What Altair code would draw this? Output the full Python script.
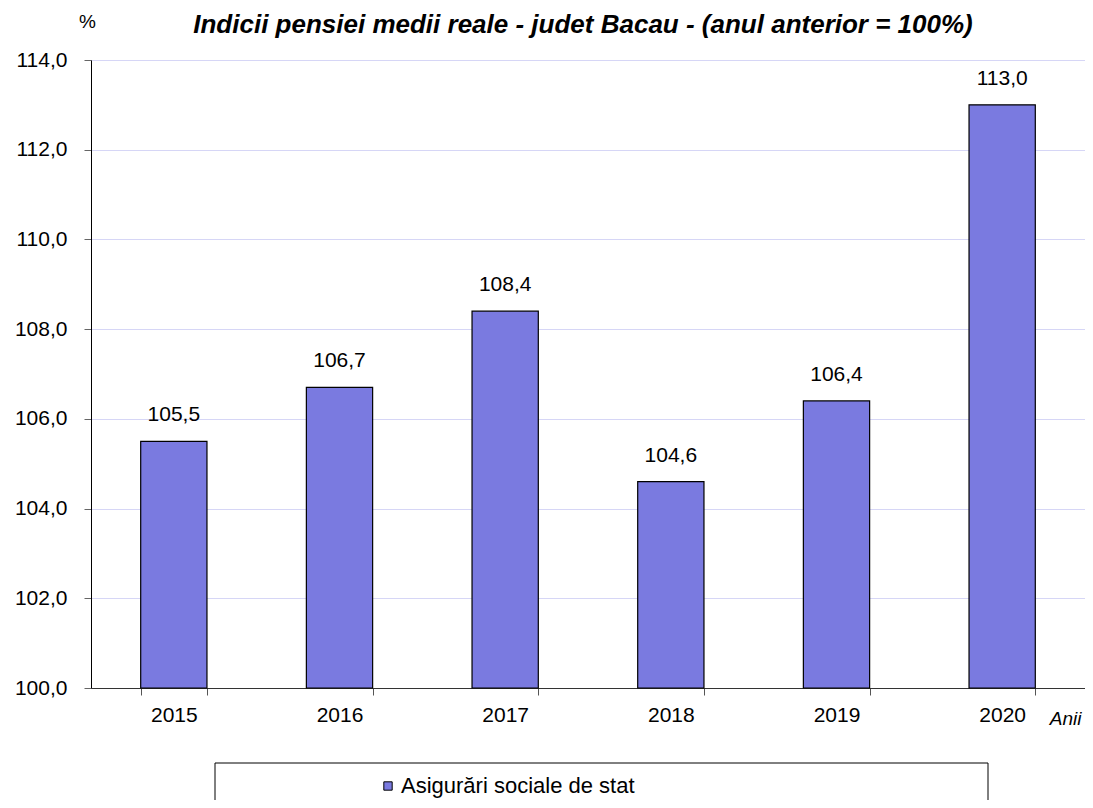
import altair as alt
import pandas as pd

years = ["2015", "2016", "2017", "2018", "2019", "2020"]
values = [105.5, 106.7, 108.4, 104.6, 106.4, 113.0]
series_name = "Asigurări sociale de stat"
y_ticks = [100, 102, 104, 106, 108, 110, 112, 114]
title_text = "Indicii pensiei  medii reale - judet Bacau - (anul anterior = 100%)"

FONT = "Liberation Sans"
BAR = "#7a7ae0"
W = 994

df = pd.DataFrame({
    "year": years,
    "value": values,
    "base": [100.0] * len(years),
    "label": [f"{v:.1f}".replace(".", ",") for v in values],
    "series": [series_name] * len(years),
})

x_enc = alt.X(
    "year:N",
    sort=years,
    scale=alt.Scale(paddingInner=0.6, paddingOuter=0.3),
    axis=alt.Axis(
        title="Anii", titleFont=FONT, titleFontSize=19, titleFontStyle="italic",
        titleFontWeight="normal", titleColor="#000", titleX=W - 4, titleY=36,
        titleAlign="right", titleBaseline="alphabetic", titleAngle=0,
        labelFont=FONT, labelFontSize=21, labelColor="#000", labelPadding=9,
        labelAngle=0, tickBand="extent", tickSize=7, tickColor="#555",
        domainColor="#333", grid=False,
    ),
)
y_scale = alt.Scale(domain=[100, 114], nice=False, zero=False)

bars = alt.Chart(df).mark_bar(stroke="#000", strokeWidth=1.2).encode(
    x=x_enc,
    y=alt.Y(
        "value:Q", scale=y_scale,
        axis=alt.Axis(
            values=y_ticks, labelExpr="replace(format(datum.value, '.1f'), '.', ',')",
            labelFont=FONT, labelFontSize=21, labelColor="#000", labelPadding=17,
            tickSize=7, tickColor="#666", domainColor="#000",
            gridColor="#d6d6f6", gridWidth=1,
            title="%", titleFont=FONT, titleFontSize=19, titleFontWeight="normal",
            titleAngle=0, titleX=-4, titleY=-33, titleAlign="center",
            titleBaseline="alphabetic", titleColor="#000",
        ),
    ),
    y2="base:Q",
    color=alt.Color(
        "series:N", scale=alt.Scale(range=[BAR]),
        legend=alt.Legend(
            title=None, orient="none", legendX=286, legendY=715,
            symbolType="square", symbolSize=70, symbolStrokeColor="#000",
            symbolStrokeWidth=1, symbolFillColor=BAR, labelFont=FONT,
            labelFontSize=22, labelColor="#000", padding=0, labelOffset=2,
            labelLimit=0,
        ),
    ),
)

text = alt.Chart(df).mark_text(
    font=FONT, fontSize=21, color="#000", baseline="alphabetic", dy=-20
).encode(x=alt.X("year:N", sort=years), y=alt.Y("value:Q", scale=y_scale), text="label:N")

box_df = pd.DataFrame({"k": [1]})
box = alt.Chart(box_df).mark_rect(fill="white", stroke="#000", strokeWidth=1).encode(
    x=alt.value(124), x2=alt.value(897), y=alt.value(703), y2=alt.value(770)
)

title = alt.Chart(pd.DataFrame({"t": [title_text]})).mark_text(
    font=FONT, fontSize=26, fontWeight="bold", fontStyle="italic", color="#000",
    align="center", baseline="alphabetic",
).encode(x=alt.value(492), y=alt.value(-27), text="t:N")

chart = alt.layer(box, bars, text, title).properties(
    width=W, height=628, autosize="none",
    padding={"left": 83, "top": 52, "right": 0, "bottom": 112},
).configure_view(stroke=None).configure(background="white")

chart.save("out.html", embed_options={"renderer": "svg", "actions": False})
